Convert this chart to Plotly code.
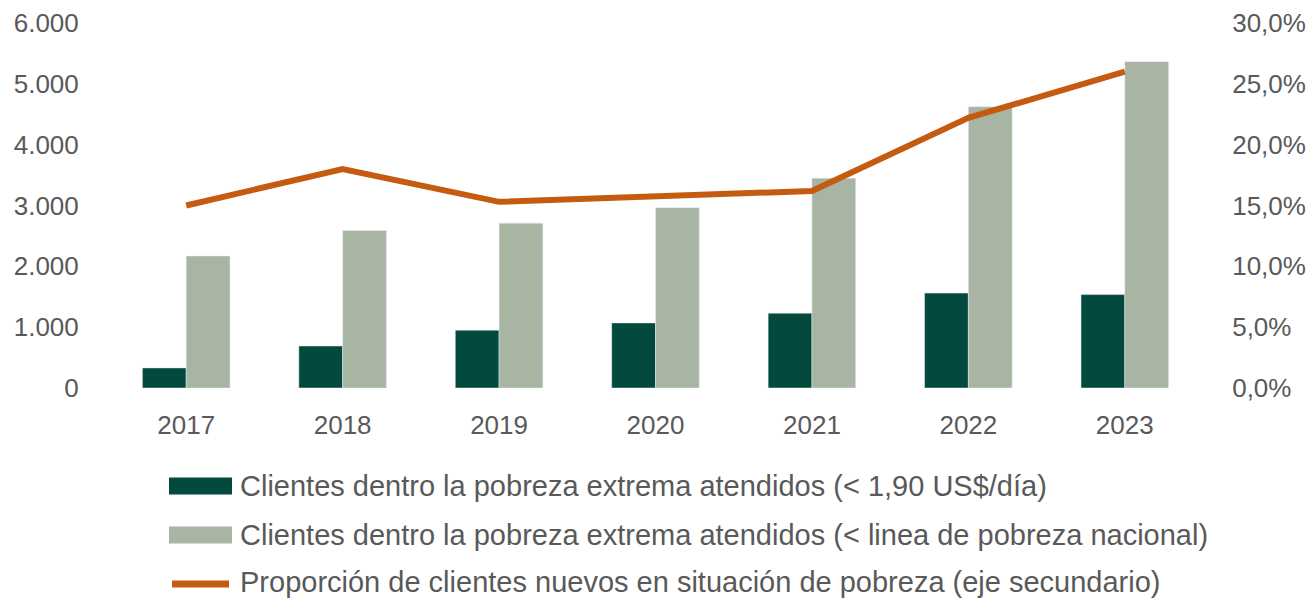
import plotly.graph_objects as go

years = ["2017", "2018", "2019", "2020", "2021", "2022", "2023"]
extrema_190 = [330, 690, 950, 1070, 1230, 1560, 1535]
extrema_nacional = [2170, 2590, 2710, 2965, 3450, 4625, 5365]
proporcion_nuevos = [0.150, 0.180, 0.153, 0.157, 0.162, 0.222, 0.260]

names = [
    "Clientes dentro la pobreza extrema atendidos (< 1,90 US$/día)",
    "Clientes dentro la pobreza extrema atendidos (< linea de pobreza nacional)",
    "Proporción de clientes nuevos en situación de pobreza (eje secundario)",
]
colors = ["#03493D", "#A8B5A2", "#C55A11"]

gray = "#595959"
font_family = "Liberation Sans, Arial, sans-serif"

W, H = 1306, 601
L, R, T, B = 108, 103, 23, 213
pw, ph = W - L - R, H - T - B

fig = go.Figure()
fig.add_trace(go.Bar(x=years, y=extrema_190, name=names[0],
                     marker_color=colors[0], showlegend=False))
fig.add_trace(go.Bar(x=years, y=extrema_nacional, name=names[1],
                     marker_color=colors[1], showlegend=False))
fig.add_trace(go.Scatter(x=years, y=proporcion_nuevos, name=names[2], yaxis="y2",
                         mode="lines", line=dict(color=colors[2], width=6),
                         showlegend=False))


# legend drawn by hand (wide swatches like the original)
def px_x(v):
    return (v - L) / pw


def px_y(v):
    return (H - B - v) / ph


rows = [486, 535, 582]
for i, (name, col) in enumerate(zip(names, colors)):
    yc = rows[i]
    if i < 2:
        fig.add_shape(type="rect", xref="paper", yref="paper",
                      x0=px_x(169), x1=px_x(232), y0=px_y(yc - 8.5), y1=px_y(yc + 8.5),
                      fillcolor=col, line=dict(width=0))
    else:
        fig.add_shape(type="line", xref="paper", yref="paper",
                      x0=px_x(172), x1=px_x(229), y0=px_y(yc + 2), y1=px_y(yc + 2),
                      line=dict(color=col, width=7))
    fig.add_annotation(text=name, xref="paper", yref="paper",
                       x=px_x(238), y=px_y(yc), xanchor="left", yanchor="middle",
                       showarrow=False, font=dict(size=29, color=gray))

fig.update_layout(
    width=W, height=H,
    margin=dict(l=L, r=R, t=T, b=B),
    paper_bgcolor="white", plot_bgcolor="white",
    separators=",.",
    barmode="group", bargap=0.44, bargroupgap=0,
    font=dict(family=font_family, color=gray, size=26),
    showlegend=False,
    xaxis=dict(showgrid=False, showline=False, zeroline=False, automargin=False,
               ticks="outside", ticklen=14, tickcolor="rgba(0,0,0,0)",
               tickfont=dict(size=26, color=gray)),
    yaxis=dict(range=[0, 6000], dtick=1000, tickformat=",d", automargin=False,
               showgrid=False, zeroline=False, showline=False,
               ticks="outside", ticklen=23, tickcolor="rgba(0,0,0,0)",
               tickfont=dict(size=26, color=gray)),
    yaxis2=dict(range=[0, 0.30], dtick=0.05, tickformat=".1%", automargin=False,
                overlaying="y", side="right",
                showgrid=False, zeroline=False, showline=False,
                ticks="outside", ticklen=23, tickcolor="rgba(0,0,0,0)",
                tickfont=dict(size=26, color=gray)),
)

# the page body has a default 8px margin; drop it so the figure fills the window
fig.write_html("out.html", config={"displayModeBar": False},
               post_script="document.body.style.margin = '0';")
